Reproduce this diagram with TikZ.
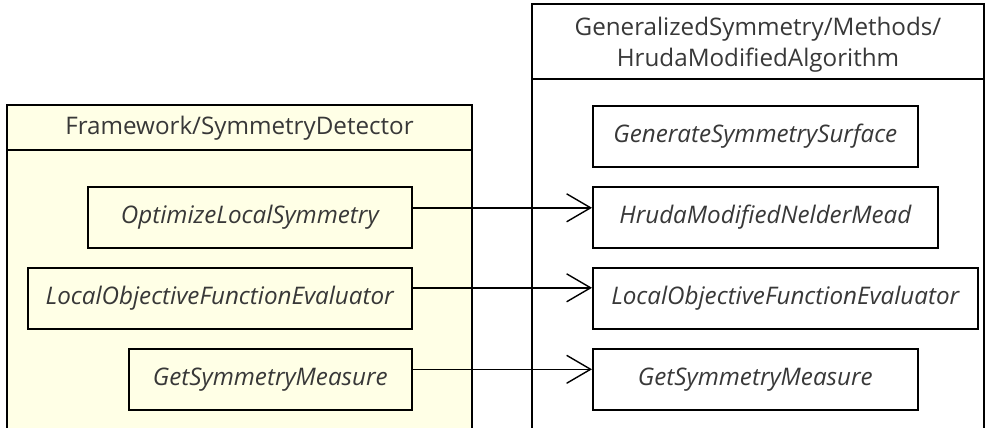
\documentclass[tikz,border=0pt]{standalone}
\usepackage{fontspec}
\setmainfont{Open Sans}
\usetikzlibrary{arrows.meta}
\definecolor{pkgyellow}{HTML}{FFFFE6}
\definecolor{txtgray}{HTML}{383838}
\tikzset{
  pkg/.style={draw=black, line width=1.6pt},
  opbox/.style={draw=black, line width=1.6pt, minimum height=61pt, inner sep=0pt, anchor=north west,
     font=\fontsize{24.2}{28}\selectfont\itshape, text=txtgray},
  title/.style={font=\fontsize{24.2}{31}\selectfont, text=txtgray, align=center, inner sep=0pt},
  dep/.style={line width=1.4pt, -{Straight Barb[length=24pt,width=28pt,line width=1.4pt]}}
}
\begin{document}
\begin{tikzpicture}[x=1pt,y=-1pt]
\useasboundingbox (0,0) rectangle (985,428);
% left package
\path[pkg, fill=pkgyellow] (7,440) -- (7,105) -- (472,105) -- (472,440);
\draw[pkg] (7,150) -- (472,150);
\node[title] (lt) at (239.5,128) {Framework/SymmetryDetector};
% right package
\path[pkg, fill=white] (532,440) -- (532,4) -- (984,4) -- (984,440);
\draw[pkg] (532,79) -- (984,79);
\node[title] (rt) at (758,45) {GeneralizedSymmetry/Methods/\\HrudaModifiedAlgorithm};
% left boxes
\node[opbox, fill=pkgyellow, minimum width=324pt] (l1) at (87,186) {OptimizeLocalSymmetry};
\node[opbox, fill=pkgyellow, minimum width=384pt] (l2) at (27,267) {LocalObjectiveFunctionEvaluator};
\node[opbox, fill=pkgyellow, minimum width=283pt] (l3) at (128,348) {GetSymmetryMeasure};
% right boxes
\node[opbox, fill=white, minimum width=325pt] (r0) at (592,105) {GenerateSymmetrySurface};
\node[opbox, fill=white, minimum width=345pt] (r1) at (592,186) {HrudaModifiedNelderMead};
\node[opbox, fill=white, minimum width=385pt] (r2) at (592,267) {LocalObjectiveFunctionEvaluator};
\node[opbox, fill=white, minimum width=325pt] (r3) at (592,348) {GetSymmetryMeasure};
% dependencies
\draw[dep] ([yshift=9.5pt]l1.east) -- ([yshift=9.5pt]r1.west);
\draw[dep] ([yshift=10.5pt]l2.east) -- ([yshift=10.5pt]r2.west);
\draw[dep] ([yshift=10pt]l3.east) -- ([yshift=10pt]r3.west);
\end{tikzpicture}
\end{document}
